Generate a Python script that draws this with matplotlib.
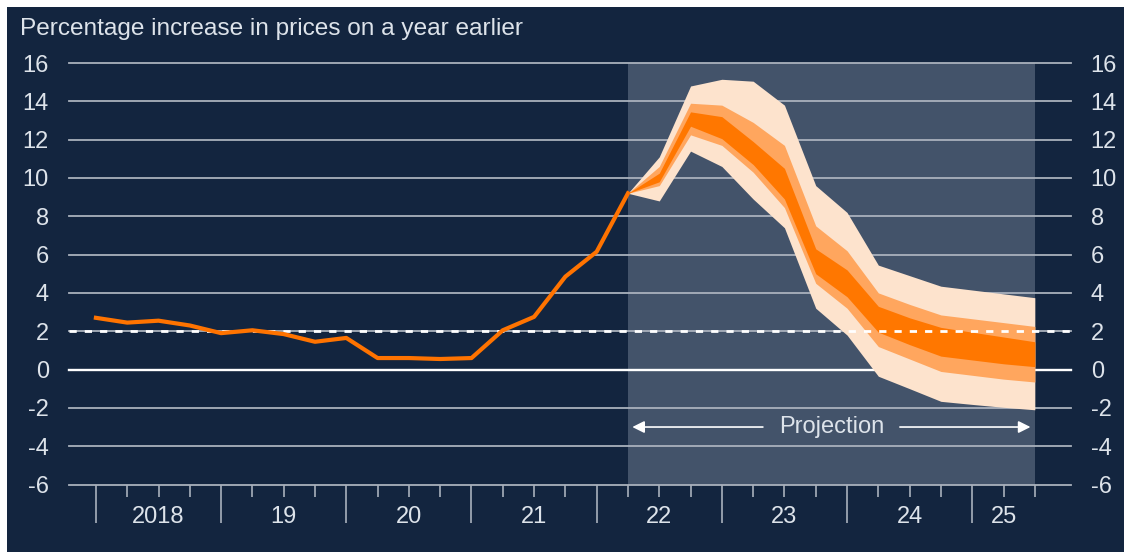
import numpy as np
import matplotlib
matplotlib.use("Agg")
from matplotlib import pyplot as plt
from matplotlib.patches import Rectangle

# history: quarterly CPI inflation, 2018 Q1 onwards (index = quarter number)
hist_q = np.arange(0, 18)
hist_val = [2.7, 2.45, 2.55, 2.3, 1.9, 2.05, 1.85, 1.45, 1.65, 0.6,
            0.6, 0.55, 0.6, 2.05, 2.75, 4.85, 6.15, 9.2]

# projection fan bands
proj_q = np.arange(17, 31)
outer_hi = [9.2, 11.1, 14.8, 15.15, 15.05, 13.8, 9.6, 8.2, 5.45, 4.9, 4.35, 4.15, 3.95, 3.75]
mid_hi = [9.2, 10.6, 13.9, 13.8, 12.9, 11.7, 7.5, 6.2, 4.0, 3.4, 2.85, 2.65, 2.45, 2.25]
inner_hi = [9.2, 10.25, 13.45, 13.2, 11.9, 10.5, 6.3, 5.2, 3.3, 2.7, 2.2, 1.95, 1.7, 1.45]
inner_lo = [9.2, 9.8, 12.7, 12.05, 10.7, 8.9, 5.0, 3.8, 1.95, 1.3, 0.7, 0.5, 0.3, 0.15]
mid_lo = [9.2, 9.6, 12.25, 11.7, 10.3, 8.45, 4.5, 3.2, 1.2, 0.55, -0.1, -0.3, -0.5, -0.65]
outer_lo = [9.2, 8.8, 11.4, 10.6, 8.9, 7.4, 3.2, 1.8, -0.35, -1.0, -1.66, -1.82, -1.97, -2.1]

year_labels = ["2018", "19", "20", "21", "22", "23", "24", "25"]
year_label_q = [2, 6, 10, 14, 18, 22, 26, 29]
y_ticks = list(range(-6, 17, 2))

NAVY = "#13253f"
SHADE = "#43536a"
GRID = "#a9b1bc"
TEXT = "#dde3ea"
plt.rcParams["font.family"] = ["Liberation Sans", "DejaVu Sans"]
plt.rcParams["axes.unicode_minus"] = False

fig = plt.figure(figsize=(11.24, 5.52), dpi=100, facecolor="white")
fig.patches.append(Rectangle((7 / 1124, 0), 1, 1 - 7 / 552, transform=fig.transFigure,
                             facecolor=NAVY, edgecolor="none", zorder=-10))
ax = fig.add_axes([69 / 1124, 1 - 484.5 / 552, (1070.5 - 69) / 1124, (484.5 - 63) / 552])
ax.set_facecolor("none")
ax.set_xlim(-0.86, 31.14)
ax.set_ylim(-6, 16)

ax.axvspan(17, 30, color=SHADE, zorder=1, lw=0)

for v in y_ticks:
    if v == 0:
        ax.axhline(v, color="white", lw=1.7, zorder=2, clip_on=False)
    else:
        ax.axhline(v, color=GRID, lw=1.3, zorder=2, clip_on=False)
ax.axhline(2, color="white", lw=2, ls=(0, (2.6, 2.9)), zorder=6)

ax.fill_between(proj_q, outer_lo, outer_hi, color="#fde3cd", lw=0, zorder=3)
ax.fill_between(proj_q, mid_lo, mid_hi, color="#ffa65e", lw=0, zorder=4)
ax.fill_between(proj_q, inner_lo, inner_hi, color="#ff7700", lw=0, zorder=5)
ax.plot(hist_q, hist_val, color="#ff7300", lw=3, zorder=7, solid_joinstyle="round")

# projection arrows
ax.annotate("", xy=(17.05, -3), xytext=(21.4, -3),
            arrowprops=dict(arrowstyle="-|>", color="white", lw=1.2, mutation_scale=18), zorder=8)
ax.annotate("", xy=(29.95, -3), xytext=(25.6, -3),
            arrowprops=dict(arrowstyle="-|>", color="white", lw=1.2, mutation_scale=18), zorder=8)
ax.text(23.5, -3, "Projection", color=TEXT, fontsize=17, ha="center", va="center", zorder=8)

for s in ax.spines.values():
    s.set_visible(False)

ax.set_yticks(y_ticks)
ax.tick_params(axis="y", left=False, right=False, labelleft=True, labelright=True,
               pad=11, labelsize=17, labelcolor=TEXT)
ax.set_xticks(range(0, 29, 4))
ax.set_xticks([q for q in range(1, 31) if q % 4 != 0], minor=True)
ax.tick_params(axis="x", which="major", length=27, width=1.2, color=GRID, labelbottom=False)
ax.tick_params(axis="x", which="minor", length=8.5, width=1.2, color=GRID)
for q, lab in zip(year_label_q, year_labels):
    ax.text(q, -0.05, lab, transform=ax.get_xaxis_transform(), ha="center", va="top",
            color=TEXT, fontsize=17)

fig.text(20 / 1124, 1 - 35 / 552, "Percentage increase in prices on a year earlier",
         color=TEXT, fontsize=17.6, ha="left", va="baseline")

fig.savefig("out.png", dpi=100, facecolor=fig.get_facecolor())
